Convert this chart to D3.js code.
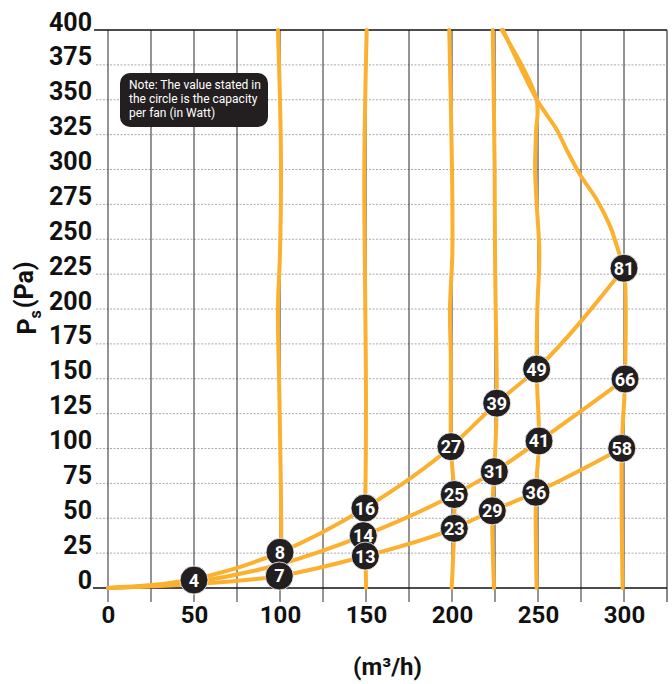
<!DOCTYPE html>
<html>
<head>
<meta charset="utf-8">
<script src="https://cdn.jsdelivr.net/npm/d3@7"></script>
<style>
  body { margin: 0; background: #fff; }
  svg { display: block; font-family: Roboto, "DejaVu Sans", sans-serif; }
</style>
</head>
<body>
<div id="chart"></div>
<script>
// axis ticks
var xTicks = [0, 50, 100, 150, 200, 250, 300];
var yTicks = [0, 25, 50, 75, 100, 125, 150, 175, 200, 225, 250, 275, 300, 325, 350, 375, 400];
var gridX = [0, 25, 50, 75, 100, 125, 150, 175, 200, 225, 250, 275, 300, 325];

// system curves (flow m3/h, static pressure Pa)
var sysHighFlow = [0, 50, 100, 149.4, 199.4, 226, 249.2, 300];
var sysHighPs   = [0, 6.5, 25.6, 57.3, 101.3, 132.5, 156.9, 229.2];
var sysMidFlow  = [0, 50, 100, 148.4, 201.3, 224.6, 250.6, 300.6];
var sysMidPs    = [0, 4.3, 17, 37.5, 67, 83.4, 105.4, 149.8];
var sysLowFlow  = [0, 50, 99.6, 149.6, 201.3, 223.4, 248.8, 298.7];
var sysLowPs    = [0, 2.8, 8.6, 22.9, 42.8, 55.3, 68.6, 100.1];

// fan curves
var fan100Flow = [98.8, 100, 100.6, 100, 98.8, 99.7, 100.6, 99.6];
var fan100Ps   = [400, 350, 300, 240, 200, 135, 25.6, 8.6];
var fan150Flow = [150.4, 149, 149.6, 150, 149.4, 148.4, 149.6, 150];
var fan150Ps   = [400, 300, 200, 135, 57.3, 37.5, 22.9, 0];
var fan200Flow = [198.4, 200, 200.2, 198.8, 199.3, 199.4, 201.3, 201.3, 199.8];
var fan200Ps   = [400, 300, 240, 200, 165, 101.3, 67, 42.8, 0];
var fan225Flow = [223.7, 224.8, 225, 225.4, 226, 224.6, 223.4, 224.4];
var fan225Ps   = [400, 300, 240, 200, 132.5, 83.4, 55.3, 0];
var fan250Flow = [228.9, 249.2, 248.8, 248.3, 249.2, 250.8, 249.6, 249.2, 250.6, 248.8, 249.2];
var fan250Ps   = [400, 350, 326, 300, 276, 240, 200, 156.9, 105.4, 68.6, 0];
var fan300Flow = [229.7, 249.4, 260.9, 266.7, 274.4, 284.1, 291.9, 297.7, 300, 300.6, 298.7, 299.2];
var fan300Ps   = [400, 350, 328.5, 314, 296.4, 278.5, 259.4, 237.9, 229.2, 149.8, 100.1, 0];

// capacity points (Watt per fan)
var ptFlow = [50, 100, 99.6, 149.4, 148.4, 149.6, 199.4, 201.3, 201.3, 226, 224.6, 223.4, 249.2, 250.6, 248.8, 300, 300.6, 298.7];
var ptPs   = [5.7, 25.6, 8.6, 57.3, 37.5, 22.9, 101.3, 67, 42.8, 132.5, 83.4, 55.3, 156.9, 105.4, 68.6, 229.2, 149.8, 100.1];
var ptWatt = [4, 8, 7, 16, 14, 13, 27, 25, 23, 39, 31, 29, 49, 41, 36, 81, 66, 58];

var noteLines = ["Note: The value stated in", "the circle is the capacity", "per fan (in Watt)"];

var W = 672, H = 684;
var orange = "#fbb12f";

var svg = d3.select("#chart").append("svg")
    .attr("width", W).attr("height", H);

var x = d3.scaleLinear().domain([0, 325]).range([108, 667]);
var y = d3.scaleLinear().domain([0, 400]).range([588, 30]);

// horizontal dotted grid
svg.append("g").selectAll("line")
    .data(yTicks.filter(function(d){ return d > 0 && d < 400; }))
    .enter().append("line")
    .attr("x1", 96).attr("x2", x(325))
    .attr("y1", function(d){ return y(d); })
    .attr("y2", function(d){ return y(d); })
    .attr("stroke", "#aaa")
    .attr("stroke-width", 1)
    .attr("stroke-dasharray", "2,1.5");

// vertical grid
svg.append("g").selectAll("line")
    .data(gridX)
    .enter().append("line")
    .attr("x1", function(d){ return x(d); })
    .attr("x2", function(d){ return x(d); })
    .attr("y1", y(400)).attr("y2", y(0) + 14)
    .attr("stroke", function(d){ return d == 325 ? "#888" : "#2a2a2a"; })
    .attr("stroke-width", function(d){ return d == 325 ? 2 : 1; });

// top and bottom rules
svg.append("line").attr("x1", 94).attr("x2", x(325))
    .attr("y1", y(400)).attr("y2", y(400))
    .attr("stroke", "#111").attr("stroke-width", 1.5);
svg.append("line").attr("x1", 93).attr("x2", x(325))
    .attr("y1", y(0)).attr("y2", y(0))
    .attr("stroke", "#111").attr("stroke-width", 1.5);

// note box
var note = svg.append("g");
note.append("rect")
    .attr("x", 120).attr("y", 73)
    .attr("width", 148).attr("height", 54)
    .attr("rx", 10)
    .attr("fill", "#231f20");
note.selectAll("text")
    .data(noteLines)
    .enter().append("text")
    .attr("x", 129)
    .attr("y", function(d, i){ return 89 + i * 14; })
    .attr("fill", "#fff")
    .style("font-size", "12px")
    .text(function(d){ return d; });

function zipPts(fx, fy){
    return fx.map(function(v, i){ return [v, fy[i]]; });
}

var fanLine = d3.line()
    .x(function(d){ return x(d[0]); })
    .y(function(d){ return y(d[1]); })
    .curve(d3.curveCatmullRom.alpha(0.5));

var sysLine = d3.line()
    .x(function(d){ return x(d[0]); })
    .y(function(d){ return y(d[1]); })
    .curve(d3.curveMonotoneX);

var fans = [
    zipPts(fan100Flow, fan100Ps),
    zipPts(fan150Flow, fan150Ps),
    zipPts(fan200Flow, fan200Ps),
    zipPts(fan225Flow, fan225Ps),
    zipPts(fan250Flow, fan250Ps),
    zipPts(fan300Flow, fan300Ps)
];
var systems = [
    zipPts(sysHighFlow, sysHighPs),
    zipPts(sysMidFlow, sysMidPs),
    zipPts(sysLowFlow, sysLowPs)
];

svg.append("g").selectAll("path")
    .data(fans)
    .enter().append("path")
    .attr("d", fanLine)
    .attr("fill", "none")
    .attr("stroke", orange)
    .attr("stroke-width", 4)
    .attr("stroke-linecap", "round");

svg.append("g").selectAll("path")
    .data(systems)
    .enter().append("path")
    .attr("d", sysLine)
    .attr("fill", "none")
    .attr("stroke", orange)
    .attr("stroke-width", 4)
    .attr("stroke-linecap", "round");

// capacity markers
var pts = svg.append("g").selectAll("g")
    .data(ptWatt)
    .enter().append("g")
    .attr("transform", function(d, i){ return "translate(" + x(ptFlow[i]) + "," + y(ptPs[i]) + ")"; });
pts.append("circle")
    .attr("r", 14)
    .attr("fill", "#231f20")
    .attr("stroke", "#fff")
    .attr("stroke-width", 0.8);
pts.append("text")
    .attr("text-anchor", "middle")
    .attr("dy", "0.36em")
    .attr("fill", "#fff")
    .style("font-size", "18px")
    .style("font-weight", "700")
    .text(function(d){ return d; });

// Y axis labels
var yAxis = svg.append("g")
    .attr("transform", "translate(" + x(0) + ",0)")
    .call(d3.axisLeft(y).tickValues(yTicks).tickSize(0).tickPadding(16));
yAxis.select(".domain").remove();
yAxis.selectAll("text")
    .attr("dy", "0")
    .attr("fill", "#111")
    .style("font-family", "Roboto, sans-serif")
    .style("font-size", "25px")
    .style("font-weight", "700");

// X axis labels
var xAxis = svg.append("g")
    .attr("transform", "translate(0," + y(0) + ")")
    .call(d3.axisBottom(x).tickValues(xTicks).tickFormat(d3.format("d")).tickSize(0).tickPadding(18));
xAxis.select(".domain").remove();
xAxis.selectAll("text")
    .attr("fill", "#111")
    .style("font-family", "Roboto, sans-serif")
    .style("font-size", "24px")
    .style("font-weight", "700");

// axis titles
var yt = svg.append("text")
    .attr("transform", "translate(36,298) rotate(-90)")
    .attr("text-anchor", "middle")
    .attr("fill", "#111")
    .style("font-size", "25px")
    .style("font-weight", "700");
yt.append("tspan").text("P");
yt.append("tspan").attr("dy", "0.3em").style("font-size", "16px").text("s");
yt.append("tspan").attr("dy", "-0.3em").attr("dx", "2").text("(Pa)");

svg.append("text")
    .attr("x", (x(0) + x(325)) / 2)
    .attr("y", 675)
    .attr("text-anchor", "middle")
    .attr("fill", "#111")
    .style("font-size", "24px")
    .style("font-weight", "700")
    .text("(m³/h)");
</script>
</body>
</html>
